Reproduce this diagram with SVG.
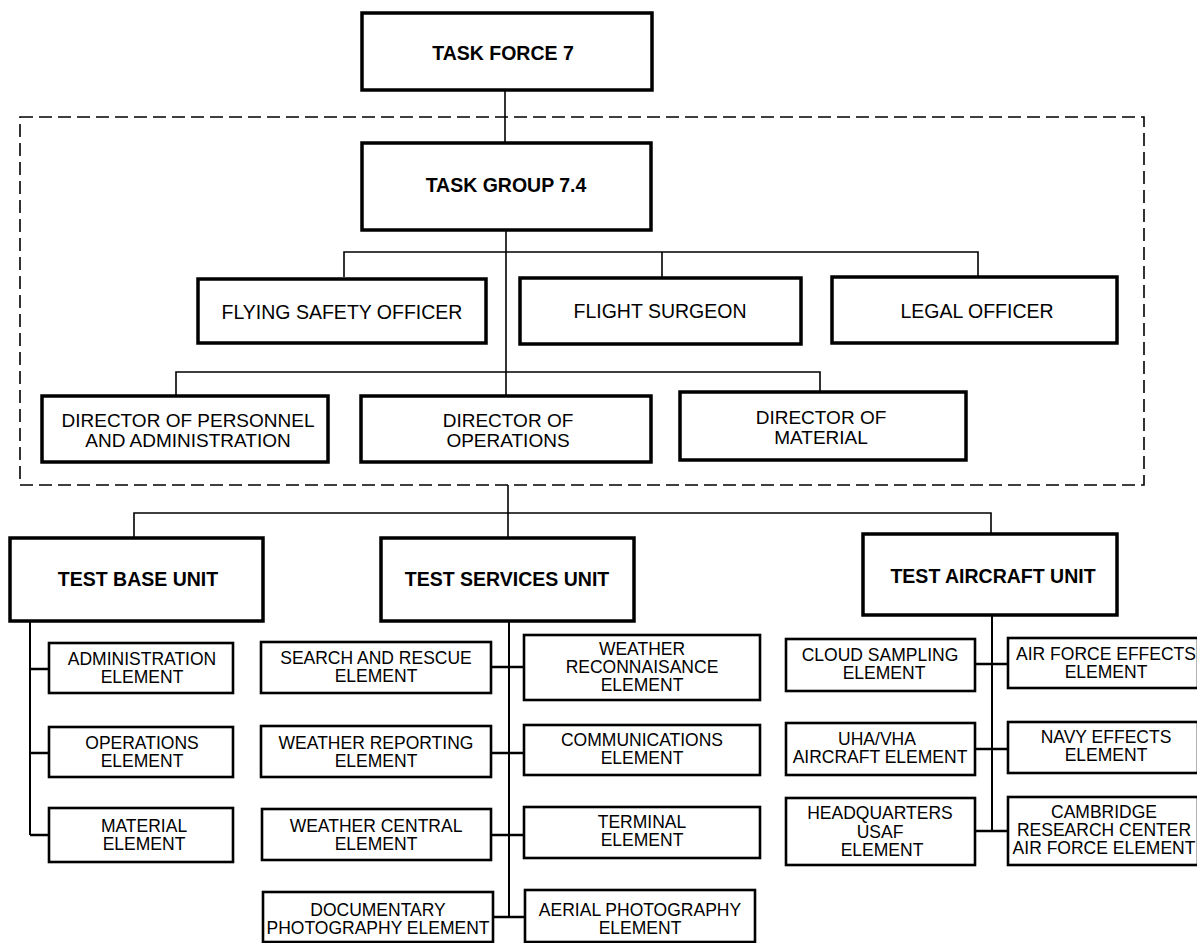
<svg xmlns="http://www.w3.org/2000/svg" width="1197" height="943" viewBox="0 0 1197 943">
<style>
.bg{fill:#fff}
.main{fill:#fff;stroke:#000;stroke-width:3.5}
.el{fill:#fff;stroke:#000;stroke-width:2.6}
.dash{fill:none;stroke:#000;stroke-width:1.6;stroke-dasharray:13 6}
.ln{fill:none;stroke:#000;stroke-width:1.6}
.sp{fill:none;stroke:#000;stroke-width:2}
.st{fill:none;stroke:#000;stroke-width:2.6}
text{font-family:"Liberation Sans",Arial,sans-serif;fill:#000;text-anchor:middle}
.tb{font-size:19.5px;font-weight:bold}
.to{font-size:19.5px}
.td{font-size:19px}
.te{font-size:17.5px}
</style>
<rect class="bg" x="0" y="0" width="1197" height="943"/>
<rect class="dash" x="20" y="117" width="1124" height="368"/>
<g id="connectors">
<path class="ln" d="M505 90V143"/>
<path class="ln" d="M506 230V396"/>
<path class="ln" d="M344 277V252H978V277M662 252V277"/>
<path class="ln" d="M176 396V372H820V392"/>
<path class="ln" d="M508 485V538"/>
<path class="ln" d="M134 538V513H991V534"/>
<path class="sp" d="M30 621V835"/>
<path class="st" d="M30 669H49M30 753H49M30 835H49"/>
<path class="sp" d="M509 621V917"/>
<path class="st" d="M491 667H524M491 753H524M491 835H524M493 917H525"/>
<path class="sp" d="M992 615V831"/>
<path class="st" d="M975 664H1008M975 749H1008M975 831H1008"/>
</g>
<g id="task-force-7"><rect class="main" x="362" y="13" width="290" height="77"/><text class="tb" x="503" y="60">TASK FORCE 7</text></g>
<g id="task-group-7-4"><rect class="main" x="362" y="143" width="289" height="87"/><text class="tb" x="506" y="192">TASK GROUP 7.4</text></g>
<g id="flying-safety-officer"><rect class="main" x="198" y="279" width="288" height="64"/><text class="to" x="342" y="319">FLYING SAFETY OFFICER</text></g>
<g id="flight-surgeon"><rect class="main" x="520" y="278" width="281" height="66"/><text class="to" x="660" y="318">FLIGHT SURGEON</text></g>
<g id="legal-officer"><rect class="main" x="832" y="277" width="285" height="66"/><text class="to" x="977" y="318">LEGAL OFFICER</text></g>
<g id="director-personnel"><rect class="main" x="42" y="396" width="286" height="66"/><text class="td" x="188" y="427">DIRECTOR OF PERSONNEL</text><text class="td" x="188" y="447">AND ADMINISTRATION</text></g>
<g id="director-operations"><rect class="main" x="361" y="396" width="290" height="66"/><text class="td" x="508" y="427">DIRECTOR OF</text><text class="td" x="508" y="447">OPERATIONS</text></g>
<g id="director-material"><rect class="main" x="680" y="392" width="286" height="68"/><text class="td" x="821" y="424">DIRECTOR OF</text><text class="td" x="821" y="444">MATERIAL</text></g>
<g id="test-base-unit"><rect class="main" x="10" y="538" width="253" height="83"/><text class="tb" x="138" y="586">TEST BASE UNIT</text></g>
<g id="test-services-unit"><rect class="main" x="381" y="538" width="253" height="83"/><text class="tb" x="507" y="586">TEST SERVICES UNIT</text></g>
<g id="test-aircraft-unit"><rect class="main" x="863" y="534" width="254" height="81"/><text class="tb" x="993" y="583">TEST AIRCRAFT UNIT</text></g>
<g id="administration-element"><rect class="el" x="49" y="643" width="184" height="50"/><text class="te" x="142" y="665">ADMINISTRATION</text><text class="te" x="142" y="683">ELEMENT</text></g>
<g id="operations-element"><rect class="el" x="49" y="727" width="184" height="50"/><text class="te" x="142" y="749">OPERATIONS</text><text class="te" x="142" y="767">ELEMENT</text></g>
<g id="material-element"><rect class="el" x="49" y="808" width="184" height="54"/><text class="te" x="144" y="832">MATERIAL</text><text class="te" x="144" y="850">ELEMENT</text></g>
<g id="search-rescue-element"><rect class="el" x="261" y="642" width="230" height="51"/><text class="te" x="376" y="664">SEARCH AND RESCUE</text><text class="te" x="376" y="682">ELEMENT</text></g>
<g id="weather-reporting-element"><rect class="el" x="261" y="726" width="230" height="51"/><text class="te" x="376" y="749">WEATHER REPORTING</text><text class="te" x="376" y="767">ELEMENT</text></g>
<g id="weather-central-element"><rect class="el" x="262" y="809" width="229" height="51"/><text class="te" x="376" y="832">WEATHER CENTRAL</text><text class="te" x="376" y="850">ELEMENT</text></g>
<g id="documentary-photography-element"><rect class="el" x="263" y="892" width="230" height="50"/><text class="te" x="378" y="916">DOCUMENTARY</text><text class="te" x="378" y="934">PHOTOGRAPHY ELEMENT</text></g>
<g id="weather-reconnaisance-element"><rect class="el" x="524" y="635" width="236" height="65"/><text class="te" x="642" y="655">WEATHER</text><text class="te" x="642" y="673">RECONNAISANCE</text><text class="te" x="642" y="691">ELEMENT</text></g>
<g id="communications-element"><rect class="el" x="524" y="725" width="236" height="50"/><text class="te" x="642" y="746">COMMUNICATIONS</text><text class="te" x="642" y="764">ELEMENT</text></g>
<g id="terminal-element"><rect class="el" x="524" y="807" width="236" height="51"/><text class="te" x="642" y="828">TERMINAL</text><text class="te" x="642" y="846">ELEMENT</text></g>
<g id="aerial-photography-element"><rect class="el" x="525" y="890" width="230" height="52"/><text class="te" x="640" y="916">AERIAL PHOTOGRAPHY</text><text class="te" x="640" y="934">ELEMENT</text></g>
<g id="cloud-sampling-element"><rect class="el" x="786" y="639" width="189" height="52"/><text class="te" x="880" y="661">CLOUD SAMPLING</text><text class="te" x="884" y="679">ELEMENT</text></g>
<g id="uha-vha-aircraft-element"><rect class="el" x="786" y="723" width="189" height="52"/><text class="te" x="877" y="745">UHA/VHA</text><text class="te" x="880" y="763">AIRCRAFT ELEMENT</text></g>
<g id="headquarters-usaf-element"><rect class="el" x="786" y="798" width="189" height="67"/><text class="te" x="880" y="819">HEADQUARTERS</text><text class="te" x="880" y="838">USAF</text><text class="te" x="882" y="856">ELEMENT</text></g>
<g id="air-force-effects-element"><rect class="el" x="1008" y="638" width="190" height="50"/><text class="te" x="1106" y="660">AIR FORCE EFFECTS</text><text class="te" x="1106" y="678">ELEMENT</text></g>
<g id="navy-effects-element"><rect class="el" x="1008" y="722" width="190" height="51"/><text class="te" x="1106" y="743">NAVY EFFECTS</text><text class="te" x="1106" y="761">ELEMENT</text></g>
<g id="cambridge-research-center-element"><rect class="el" x="1008" y="797" width="190" height="68"/><text class="te" x="1104" y="818">CAMBRIDGE</text><text class="te" x="1104" y="836">RESEARCH CENTER</text><text class="te" x="1104" y="854">AIR FORCE ELEMENT</text></g>
</svg>
